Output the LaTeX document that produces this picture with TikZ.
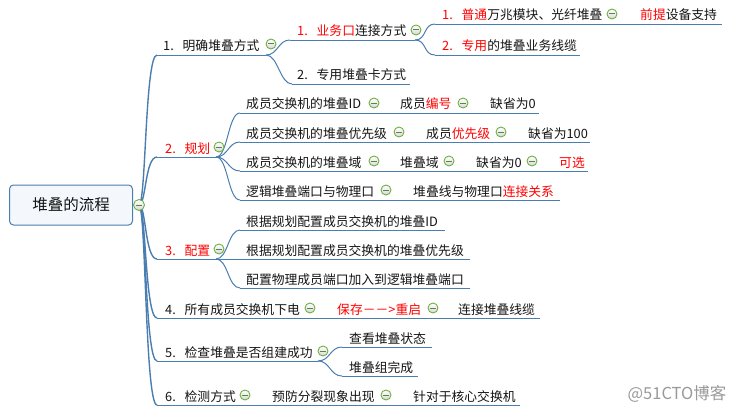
\documentclass[tikz,border=0pt]{standalone}
\usepackage{fontspec}
\setmainfont{Noto Sans CJK SC}
\usetikzlibrary{calc}
\usepackage{xcolor}
\definecolor{linecol}{RGB}{74,126,176}
\definecolor{foldgreen}{RGB}{112,176,64}
\definecolor{foldbar}{RGB}{96,128,84}
\definecolor{rootfill}{RGB}{244,248,252}
\definecolor{txtcol}{RGB}{20,20,20}
\newcommand\hl[1]{\textcolor{red}{#1}}
\newcommand\ordnum[1]{\makebox[19.5pt][l]{#1.}}
\tikzset{
  topic/.style={anchor=base west, inner sep=0pt, text=txtcol,
    font=\fontsize{12.8pt}{15pt}\selectfont},
  uline/.style={draw=linecol, line width=0.9pt},
  branch/.style={draw=linecol, line width=1pt},
  trunk/.style={draw=linecol, line width=1.4pt},
  fold/.style={circle, inner sep=0pt, minimum size=10pt, draw=foldgreen,
    line width=0.9pt, top color=white, bottom color=black!15,
    path picture={\draw[foldbar, line width=1pt]
      ([xshift=-2.6pt]path picture bounding box.center) --
      ([xshift=2.6pt]path picture bounding box.center);}},
}
\begin{document}
\begin{tikzpicture}[x=1pt, y=-1pt]
  \useasboundingbox (0,0) rectangle (734,412);
  % central topic
  \node[draw=linecol, line width=1pt, rounded corners=4pt, fill=rootfill,
    minimum width=123pt, minimum height=40pt, text=txtcol,
    font=\fontsize{15.5pt}{18pt}\selectfont] (root) at (71,205) {堆叠的流程};
  \coordinate (root-k) at (139,205);
  % main branches: name/y/end of underline
  \foreach \name/\y/\xe in {m1/55/266, m2/157/216, m3/259/216,
      m4/318/540, m5/361/318, m6/405/520} {
    \coordinate (\name-s) at (157,\y);
    \coordinate (\name-e) at (\xe,\y);
  }
  % sub topics: name/start/y/end
  \foreach \name/\xs/\y/\xe in {s11/290/40/415, s12/292/84/410,
      t111/435/24/722, t112/435/55/580,
      s21/240/113/539, s22/240/142/590, s23/240/171/588, s24/240/200/560,
      s31/240/230/445, s32/240/259/470, s33/240/288/470,
      s51/342/347/432, s52/342/376/418} {
    \coordinate (\name-s) at (\xs,\y);
    \coordinate (\name-e) at (\xe,\y);
    \draw[uline] (\name-s) -- (\name-e);
  }
  \foreach \name in {m1,m2,m3,m4,m5,m6} {
    \draw[uline] (\name-s) -- (\name-e);
    \draw[trunk] (root-k) .. controls +(7,0) and +(-12,0) .. (\name-s);
  }
  % connectors between levels
  \foreach \p/\c in {m1/s11, m1/s12, s11/t111, s11/t112,
      m2/s21, m2/s22, m2/s23, m2/s24, m3/s31, m3/s32, m3/s33,
      m5/s51, m5/s52} {
    \draw[branch] (\p-e) .. controls +(12,0) and +(-12,0) .. (\c-s);
  }
  \node[fold, minimum size=11pt] (root-f) at (root-k) {};

  % 1
  \node[topic] (m1) at (163,51) {\ordnum{1}明确堆叠方式};
  \node[fold] (m1-f) at (271,44) {};
  \node[topic] (s11) at (297,36) {\hl{\ordnum{1}业务口}连接方式};
  \node[fold] (s11-f) at (416,30) {};
  \node[topic] (s12) at (297,80) {\ordnum{2}专用堆叠卡方式};
  \node[topic] (t111) at (442,20) {\hl{\ordnum{1}普通}万兆模块、光纤堆叠};
  \node[fold] (t111-f) at (612,14) {};
  \node[topic] (t111b) at (640,20) {\hl{前提}设备支持};
  \node[topic] (t112) at (442,51) {\hl{\ordnum{2}专用}的堆叠业务线缆};
  % 2
  \node[topic] (m2) at (165,153) {\hl{\ordnum{2}规划}};
  \node[fold] (m2-f) at (219,147) {};
  \node[topic] (s21) at (246,109) {成员交换机的堆叠ID};
  \node[fold] (s21-f) at (374,103) {};
  \node[topic] (s21b) at (400,109) {成员\hl{编号}};
  \node[fold] (s21b-f) at (463,103) {};
  \node[topic] (s21c) at (490,109) {缺省为0};
  \node[topic] (s22) at (246,138) {成员交换机的堆叠优先级};
  \node[fold] (s22-f) at (399,132) {};
  \node[topic] (s22b) at (426,138) {成员\hl{优先级}};
  \node[fold] (s22b-f) at (501,132) {};
  \node[topic] (s22c) at (528,138) {缺省为100};
  \node[topic] (s23) at (246,167) {成员交换机的堆叠域};
  \node[fold] (s23-f) at (374,161) {};
  \node[topic] (s23b) at (400,167) {堆叠域};
  \node[fold] (s23b-f) at (449,161) {};
  \node[topic] (s23c) at (476,167) {缺省为0};
  \node[fold] (s23c-f) at (532,161) {};
  \node[topic] (s23d) at (559,167) {\hl{可选}};
  \node[topic] (s24) at (246,196) {逻辑堆叠端口与物理口};
  \node[fold] (s24-f) at (386,190) {};
  \node[topic] (s24b) at (413,196) {堆叠线与物理口\hl{连接关系}};
  % 3
  \node[topic] (m3) at (165,255) {\hl{\ordnum{3}配置}};
  \node[fold] (m3-f) at (219,249) {};
  \node[topic] (s31) at (246,226) {根据规划配置成员交换机的堆叠ID};
  \node[topic] (s32) at (246,255) {根据规划配置成员交换机的堆叠优先级};
  \node[topic] (s33) at (246,284) {配置物理成员端口加入到逻辑堆叠端口};
  % 4
  \node[topic] (m4) at (165,314) {\ordnum{4}所有成员交换机下电};
  \node[fold] (m4-f) at (310,308) {};
  \node[topic] (m4b) at (337,314) {\hl{保存－－>重启}};
  \node[fold] (m4b-f) at (433,308) {};
  \node[topic] (m4c) at (458,314) {连接堆叠线缆};
  % 5
  \node[topic] (m5) at (165,357) {\ordnum{5}检查堆叠是否组建成功};
  \node[fold] (m5-f) at (323,351) {};
  \node[topic] (s51) at (349,343) {查看堆叠状态};
  \node[topic] (s52) at (349,372) {堆叠组完成};
  % 6
  \node[topic] (m6) at (165,401) {\ordnum{6}检测方式};
  \node[fold] (m6-f) at (245,395) {};
  \node[topic] (m6b) at (272,401) {预防分裂现象出现};
  \node[fold] (m6b-f) at (386,395) {};
  \node[topic] (m6c) at (413,401) {针对于核心交换机};

  \node[text=black!40, font=\fontsize{16.5pt}{18pt}\selectfont] (mark) at (677,394) {@51CTO博客};
\end{tikzpicture}
\end{document}
